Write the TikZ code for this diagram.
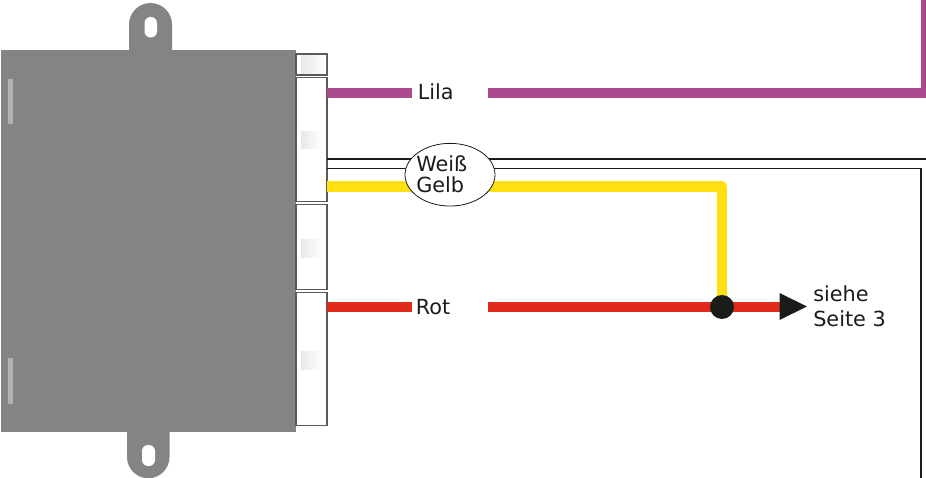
\documentclass[tikz,border=0pt]{standalone}
\usepackage{fontspec}
\setmainfont{DejaVu Sans}
\usetikzlibrary{shapes.geometric,calc}
\definecolor{bodygrey}{HTML}{848484}
\definecolor{slotgrey}{HTML}{B2B2B2}
\definecolor{boxedge}{HTML}{5A5A5A}
\definecolor{lila}{HTML}{AB4A8E}
\definecolor{gelb}{HTML}{FFE112}
\definecolor{rot}{HTML}{E02B1C}
\definecolor{ink}{HTML}{1A1C1A}
\tikzset{
  px/.style={x=0.75pt,y=-0.75pt},
  conn/.style={draw=boxedge,fill=white,line width=0.85pt,minimum width=23.25pt,inner sep=0pt,outer sep=0pt,rectangle,anchor=north west},
  patch/.style={left color=black!9,right color=white,draw=none},
  wire/.style={line width=7.9pt},
  thin wire/.style={draw=ink,line width=1.4pt},
  lbl/.style={font=\fontsize{15.6pt}{18pt}\selectfont,text=ink,inner sep=0pt,anchor=base west,align=left},
  hole/.style={fill=white,draw=none,rounded corners=4.5pt},
}
\begin{document}
\begin{tikzpicture}[px]
\useasboundingbox (0,0) rectangle (926,478);
% housing
\fill[bodygrey] (129,60) -- (129,24.5) arc[start angle=180,end angle=360,radius=21.5] -- (172,60) -- cycle;
\fill[bodygrey] (127,420) -- (127,457) arc[start angle=180,end angle=0,radius=21.25] -- (169.5,420) -- cycle;
\fill[hole] (144.5,17) rectangle (157,37.5);
\fill[hole] (142,445) rectangle (155,466);
\node[rectangle,fill=bodygrey,anchor=north west,minimum width=221.25pt,minimum height=286.2pt,inner sep=0pt,outer sep=0pt] (body) at (1,50.5) {};
\fill[slotgrey] (7.5,79) rectangle (12.5,124);
\fill[slotgrey] (7.5,358) rectangle (12.5,403.5);
% connectors
\node[conn,minimum height=15.75pt] (c1) at (296,54) {};
\node[conn,minimum height=93pt] (c2) at (296,77.5) {};
\node[conn,minimum height=63.75pt] (c3) at (296,204.5) {};
\node[conn,minimum height=99.75pt] (c4) at (296,292.5) {};
\fill[patch] (301,56) rectangle (326,74);
\fill[patch] (301,132) rectangle (322,149);
\fill[patch] (301,239) rectangle (322,257);
\fill[patch] (301,351) rectangle (322,369);
% end points
\coordinate (lilaA) at (c2.east |- 0,93);
\coordinate (lilaB) at (412,93);
\coordinate (lilaC) at (488,93);
\coordinate (lilaD) at (926,93);
\coordinate (lilaE) at (926,0);
\coordinate (wA) at (c2.east |- 0,159);
\coordinate (wB) at (926,159);
\coordinate (wC) at (c2.east |- 0,168.5);
\coordinate (wD) at (921,168.5);
\coordinate (wE) at (921,478);
\coordinate (gA) at (c2.east |- 0,186.5);
\coordinate (gB) at (412,186.5);
\coordinate (gC) at (488,186.5);
\coordinate (gD) at (722,186.5);
\coordinate (rA) at (c4.east |- 0,307);
\coordinate (rB) at (412,307);
\coordinate (rC) at (488,307);
\coordinate (rD) at (785,307);
\coordinate (dotc) at (722,307);
% wires
\draw[wire,lila] (lilaA) -- (lilaB);
\draw[wire,lila,line join=miter] (lilaC) -- (lilaD) -- (lilaE);
\draw[thin wire] (wA) -- (wB);
\draw[thin wire] (wC) -- (wD) -- (wE);
\draw[wire,gelb] (gA) -- (gB);
\draw[wire,gelb,line join=round] (gC) -- (gD) -- (dotc);
\draw[wire,rot] (rA) -- (rB);
\draw[wire,rot] (rC) -- (rD);
\node[circle,fill=ink,minimum size=18pt,inner sep=0pt,outer sep=0pt] (dot) at (dotc) {};
\fill[ink] (779.5,293) -- (807,306.5) -- (779.5,320) -- cycle;
% ellipse and labels
\node[ellipse,draw=ink,fill=white,line width=0.6pt,minimum width=67.5pt,minimum height=47pt,inner sep=0pt] (ell) at (450,174.7) {};
\node[lbl] (weiss) at (416,171.8) {Weiß};
\node[lbl] (gelbl) at (416,193) {Gelb};
\node[lbl] (lilal) at (417.5,100) {Lila};
\node[lbl] (rotl) at (415.5,314) {Rot};
\node[lbl] (siehe) at (813,301) {siehe};
\node[lbl] (seite) at (813,326.5) {Seite 3};
\end{tikzpicture}
\end{document}
